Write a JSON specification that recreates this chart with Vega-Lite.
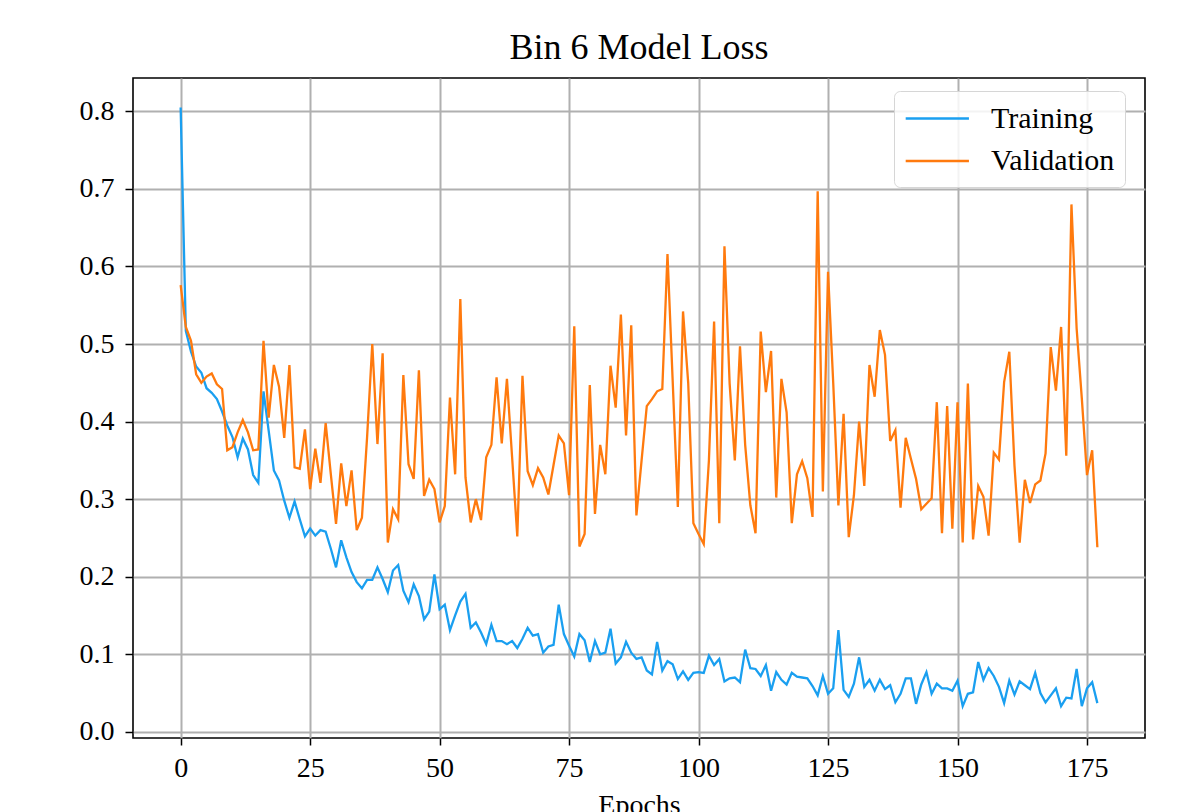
{
  "$schema": "https://vega.github.io/schema/vega-lite/v6.json",
  "autosize": {"type": "none"},
  "width": 1012,
  "height": 660,
  "padding": {"left": 133, "top": 78, "right": 34, "bottom": 74},
  "background": "white",
  "config": {
    "view": {"stroke": "black", "strokeWidth": 1.6},
    "font": "Liberation Serif"
  },
  "title": {
    "text": "Bin 6 Model Loss",
    "font": "Liberation Serif",
    "fontSize": 36,
    "fontWeight": "normal",
    "color": "black",
    "anchor": "middle",
    "baseline": "alphabetic",
    "offset": -17
  },
  "data": {
    "values": [
      {"epoch": 0, "Training": 0.805, "Validation": 0.576},
      {"epoch": 1, "Training": 0.517, "Validation": 0.522},
      {"epoch": 2, "Training": 0.49, "Validation": 0.504},
      {"epoch": 3, "Training": 0.471, "Validation": 0.461},
      {"epoch": 4, "Training": 0.463, "Validation": 0.45},
      {"epoch": 5, "Training": 0.443, "Validation": 0.458},
      {"epoch": 6, "Training": 0.437, "Validation": 0.462},
      {"epoch": 7, "Training": 0.429, "Validation": 0.448},
      {"epoch": 8, "Training": 0.413, "Validation": 0.442},
      {"epoch": 9, "Training": 0.395, "Validation": 0.363},
      {"epoch": 10, "Training": 0.38, "Validation": 0.367},
      {"epoch": 11, "Training": 0.354, "Validation": 0.386},
      {"epoch": 12, "Training": 0.378, "Validation": 0.402},
      {"epoch": 13, "Training": 0.364, "Validation": 0.386},
      {"epoch": 14, "Training": 0.331, "Validation": 0.363},
      {"epoch": 15, "Training": 0.321, "Validation": 0.364},
      {"epoch": 16, "Training": 0.439, "Validation": 0.504},
      {"epoch": 17, "Training": 0.388, "Validation": 0.405},
      {"epoch": 18, "Training": 0.337, "Validation": 0.473},
      {"epoch": 19, "Training": 0.324, "Validation": 0.445},
      {"epoch": 20, "Training": 0.298, "Validation": 0.379},
      {"epoch": 21, "Training": 0.276, "Validation": 0.473},
      {"epoch": 22, "Training": 0.297, "Validation": 0.341},
      {"epoch": 23, "Training": 0.274, "Validation": 0.339},
      {"epoch": 24, "Training": 0.252, "Validation": 0.39},
      {"epoch": 25, "Training": 0.262, "Validation": 0.313},
      {"epoch": 26, "Training": 0.253, "Validation": 0.365},
      {"epoch": 27, "Training": 0.26, "Validation": 0.321},
      {"epoch": 28, "Training": 0.258, "Validation": 0.398},
      {"epoch": 29, "Training": 0.236, "Validation": 0.332},
      {"epoch": 30, "Training": 0.212, "Validation": 0.268},
      {"epoch": 31, "Training": 0.247, "Validation": 0.346},
      {"epoch": 32, "Training": 0.225, "Validation": 0.291},
      {"epoch": 33, "Training": 0.206, "Validation": 0.337},
      {"epoch": 34, "Training": 0.193, "Validation": 0.26},
      {"epoch": 35, "Training": 0.185, "Validation": 0.276},
      {"epoch": 36, "Training": 0.196, "Validation": 0.38},
      {"epoch": 37, "Training": 0.196, "Validation": 0.5},
      {"epoch": 38, "Training": 0.212, "Validation": 0.371},
      {"epoch": 39, "Training": 0.197, "Validation": 0.488},
      {"epoch": 40, "Training": 0.18, "Validation": 0.244},
      {"epoch": 41, "Training": 0.208, "Validation": 0.287},
      {"epoch": 42, "Training": 0.215, "Validation": 0.274},
      {"epoch": 43, "Training": 0.182, "Validation": 0.46},
      {"epoch": 44, "Training": 0.167, "Validation": 0.345},
      {"epoch": 45, "Training": 0.19, "Validation": 0.326},
      {"epoch": 46, "Training": 0.175, "Validation": 0.466},
      {"epoch": 47, "Training": 0.145, "Validation": 0.304},
      {"epoch": 48, "Training": 0.155, "Validation": 0.325},
      {"epoch": 49, "Training": 0.203, "Validation": 0.313},
      {"epoch": 50, "Training": 0.158, "Validation": 0.27},
      {"epoch": 51, "Training": 0.164, "Validation": 0.291},
      {"epoch": 52, "Training": 0.131, "Validation": 0.431},
      {"epoch": 53, "Training": 0.15, "Validation": 0.332},
      {"epoch": 54, "Training": 0.168, "Validation": 0.558},
      {"epoch": 55, "Training": 0.178, "Validation": 0.328},
      {"epoch": 56, "Training": 0.134, "Validation": 0.27},
      {"epoch": 57, "Training": 0.141, "Validation": 0.3},
      {"epoch": 58, "Training": 0.128, "Validation": 0.273},
      {"epoch": 59, "Training": 0.113, "Validation": 0.354},
      {"epoch": 60, "Training": 0.138, "Validation": 0.37},
      {"epoch": 61, "Training": 0.117, "Validation": 0.457},
      {"epoch": 62, "Training": 0.117, "Validation": 0.372},
      {"epoch": 63, "Training": 0.113, "Validation": 0.455},
      {"epoch": 64, "Training": 0.117, "Validation": 0.354},
      {"epoch": 65, "Training": 0.108, "Validation": 0.252},
      {"epoch": 66, "Training": 0.12, "Validation": 0.459},
      {"epoch": 67, "Training": 0.134, "Validation": 0.336},
      {"epoch": 68, "Training": 0.124, "Validation": 0.318},
      {"epoch": 69, "Training": 0.126, "Validation": 0.34},
      {"epoch": 70, "Training": 0.102, "Validation": 0.328},
      {"epoch": 71, "Training": 0.11, "Validation": 0.306},
      {"epoch": 72, "Training": 0.112, "Validation": 0.344},
      {"epoch": 73, "Training": 0.164, "Validation": 0.382},
      {"epoch": 74, "Training": 0.126, "Validation": 0.372},
      {"epoch": 75, "Training": 0.111, "Validation": 0.305},
      {"epoch": 76, "Training": 0.097, "Validation": 0.523},
      {"epoch": 77, "Training": 0.126, "Validation": 0.239},
      {"epoch": 78, "Training": 0.118, "Validation": 0.255},
      {"epoch": 79, "Training": 0.09, "Validation": 0.447},
      {"epoch": 80, "Training": 0.117, "Validation": 0.281},
      {"epoch": 81, "Training": 0.1, "Validation": 0.37},
      {"epoch": 82, "Training": 0.102, "Validation": 0.332},
      {"epoch": 83, "Training": 0.133, "Validation": 0.472},
      {"epoch": 84, "Training": 0.088, "Validation": 0.418},
      {"epoch": 85, "Training": 0.096, "Validation": 0.538},
      {"epoch": 86, "Training": 0.116, "Validation": 0.382},
      {"epoch": 87, "Training": 0.102, "Validation": 0.524},
      {"epoch": 88, "Training": 0.094, "Validation": 0.279},
      {"epoch": 89, "Training": 0.096, "Validation": 0.35},
      {"epoch": 90, "Training": 0.079, "Validation": 0.42},
      {"epoch": 91, "Training": 0.074, "Validation": 0.429},
      {"epoch": 92, "Training": 0.116, "Validation": 0.439},
      {"epoch": 93, "Training": 0.079, "Validation": 0.442},
      {"epoch": 94, "Training": 0.091, "Validation": 0.616},
      {"epoch": 95, "Training": 0.087, "Validation": 0.453},
      {"epoch": 96, "Training": 0.068, "Validation": 0.29},
      {"epoch": 97, "Training": 0.078, "Validation": 0.542},
      {"epoch": 98, "Training": 0.067, "Validation": 0.45},
      {"epoch": 99, "Training": 0.076, "Validation": 0.269},
      {"epoch": 100, "Training": 0.077, "Validation": 0.255},
      {"epoch": 101, "Training": 0.076, "Validation": 0.242},
      {"epoch": 102, "Training": 0.098, "Validation": 0.35},
      {"epoch": 103, "Training": 0.086, "Validation": 0.529},
      {"epoch": 104, "Training": 0.094, "Validation": 0.269},
      {"epoch": 105, "Training": 0.065, "Validation": 0.626},
      {"epoch": 106, "Training": 0.069, "Validation": 0.449},
      {"epoch": 107, "Training": 0.07, "Validation": 0.35},
      {"epoch": 108, "Training": 0.064, "Validation": 0.497},
      {"epoch": 109, "Training": 0.106, "Validation": 0.37},
      {"epoch": 110, "Training": 0.082, "Validation": 0.292},
      {"epoch": 111, "Training": 0.081, "Validation": 0.256},
      {"epoch": 112, "Training": 0.072, "Validation": 0.516},
      {"epoch": 113, "Training": 0.086, "Validation": 0.438},
      {"epoch": 114, "Training": 0.053, "Validation": 0.491},
      {"epoch": 115, "Training": 0.077, "Validation": 0.302},
      {"epoch": 116, "Training": 0.067, "Validation": 0.455},
      {"epoch": 117, "Training": 0.061, "Validation": 0.412},
      {"epoch": 118, "Training": 0.076, "Validation": 0.269},
      {"epoch": 119, "Training": 0.071, "Validation": 0.332},
      {"epoch": 120, "Training": 0.07, "Validation": 0.349},
      {"epoch": 121, "Training": 0.069, "Validation": 0.327},
      {"epoch": 122, "Training": 0.059, "Validation": 0.277},
      {"epoch": 123, "Training": 0.047, "Validation": 0.697},
      {"epoch": 124, "Training": 0.072, "Validation": 0.31},
      {"epoch": 125, "Training": 0.049, "Validation": 0.593},
      {"epoch": 126, "Training": 0.056, "Validation": 0.45},
      {"epoch": 127, "Training": 0.131, "Validation": 0.292},
      {"epoch": 128, "Training": 0.054, "Validation": 0.41},
      {"epoch": 129, "Training": 0.045, "Validation": 0.251},
      {"epoch": 130, "Training": 0.062, "Validation": 0.305},
      {"epoch": 131, "Training": 0.096, "Validation": 0.4},
      {"epoch": 132, "Training": 0.058, "Validation": 0.317},
      {"epoch": 133, "Training": 0.067, "Validation": 0.473},
      {"epoch": 134, "Training": 0.053, "Validation": 0.432},
      {"epoch": 135, "Training": 0.067, "Validation": 0.518},
      {"epoch": 136, "Training": 0.055, "Validation": 0.486},
      {"epoch": 137, "Training": 0.06, "Validation": 0.375},
      {"epoch": 138, "Training": 0.038, "Validation": 0.389},
      {"epoch": 139, "Training": 0.049, "Validation": 0.289},
      {"epoch": 140, "Training": 0.069, "Validation": 0.379},
      {"epoch": 141, "Training": 0.069, "Validation": 0.352},
      {"epoch": 142, "Training": 0.036, "Validation": 0.326},
      {"epoch": 143, "Training": 0.061, "Validation": 0.287},
      {"epoch": 144, "Training": 0.077, "Validation": 0.294},
      {"epoch": 145, "Training": 0.049, "Validation": 0.301},
      {"epoch": 146, "Training": 0.062, "Validation": 0.425},
      {"epoch": 147, "Training": 0.056, "Validation": 0.256},
      {"epoch": 148, "Training": 0.056, "Validation": 0.42},
      {"epoch": 149, "Training": 0.053, "Validation": 0.262},
      {"epoch": 150, "Training": 0.066, "Validation": 0.425},
      {"epoch": 151, "Training": 0.033, "Validation": 0.244},
      {"epoch": 152, "Training": 0.049, "Validation": 0.449},
      {"epoch": 153, "Training": 0.051, "Validation": 0.248},
      {"epoch": 154, "Training": 0.09, "Validation": 0.317},
      {"epoch": 155, "Training": 0.067, "Validation": 0.303},
      {"epoch": 156, "Training": 0.082, "Validation": 0.253},
      {"epoch": 157, "Training": 0.072, "Validation": 0.36},
      {"epoch": 158, "Training": 0.058, "Validation": 0.351},
      {"epoch": 159, "Training": 0.037, "Validation": 0.451},
      {"epoch": 160, "Training": 0.066, "Validation": 0.49},
      {"epoch": 161, "Training": 0.048, "Validation": 0.343},
      {"epoch": 162, "Training": 0.065, "Validation": 0.244},
      {"epoch": 163, "Training": 0.06, "Validation": 0.325},
      {"epoch": 164, "Training": 0.055, "Validation": 0.295},
      {"epoch": 165, "Training": 0.076, "Validation": 0.319},
      {"epoch": 166, "Training": 0.05, "Validation": 0.324},
      {"epoch": 167, "Training": 0.038, "Validation": 0.359},
      {"epoch": 168, "Training": 0.047, "Validation": 0.496},
      {"epoch": 169, "Training": 0.056, "Validation": 0.44},
      {"epoch": 170, "Training": 0.033, "Validation": 0.522},
      {"epoch": 171, "Training": 0.044, "Validation": 0.356},
      {"epoch": 172, "Training": 0.043, "Validation": 0.68},
      {"epoch": 173, "Training": 0.081, "Validation": 0.52},
      {"epoch": 174, "Training": 0.033, "Validation": 0.43},
      {"epoch": 175, "Training": 0.056, "Validation": 0.331},
      {"epoch": 176, "Training": 0.064, "Validation": 0.363},
      {"epoch": 177, "Training": 0.037, "Validation": 0.238}
    ]
  },
  "transform": [{"fold": ["Training", "Validation"], "as": ["series", "loss"]}],
  "mark": {"type": "line", "strokeWidth": 2.3, "clip": true},
  "encoding": {
    "x": {
      "field": "epoch",
      "type": "quantitative",
      "scale": {"domain": [-9.2, 186.2], "nice": false, "zero": false},
      "axis": {
        "title": "Epochs",
        "values": [0, 25, 50, 75, 100, 125, 150, 175],
        "domain": false,
        "grid": true,
        "gridColor": "#b0b0b0",
        "gridWidth": 2,
        "gridOpacity": 1,
        "ticks": true,
        "tickColor": "black",
        "tickWidth": 1.5,
        "tickSize": 7,
        "labelFont": "Liberation Serif",
        "labelFontSize": 28,
        "labelColor": "black",
        "labelPadding": 9,
        "labelFlush": false,
        "titleFont": "Liberation Serif",
        "titleFontSize": 28,
        "titleFontWeight": "normal",
        "titleColor": "black",
        "titlePadding": 9
      }
    },
    "y": {
      "field": "loss",
      "type": "quantitative",
      "scale": {"domain": [-0.008, 0.843], "nice": false, "zero": false},
      "axis": {
        "title": null,
        "values": [0, 0.1, 0.2, 0.3, 0.4, 0.5, 0.6, 0.7, 0.8],
        "format": ".1f",
        "domain": false,
        "grid": true,
        "gridColor": "#b0b0b0",
        "gridWidth": 2,
        "gridOpacity": 1,
        "ticks": true,
        "tickColor": "black",
        "tickWidth": 1.5,
        "tickSize": 8,
        "labelFont": "Liberation Serif",
        "labelFontSize": 28,
        "labelColor": "black",
        "labelPadding": 11,
        "labelFlush": false
      }
    },
    "color": {
      "field": "series",
      "type": "nominal",
      "scale": {"domain": ["Training", "Validation"], "range": ["#1a9ff0", "#ff7a0e"]},
      "legend": {
        "title": null,
        "orient": "none",
        "legendX": 761,
        "legendY": 13,
        "symbolType": "M-1,0L3,0",
        "symbolSize": 1000,
        "symbolStrokeWidth": 2.5,
        "labelFont": "Liberation Serif",
        "labelFontSize": 30,
        "labelColor": "black",
        "labelOffset": 52,
        "rowPadding": 9.6,
        "padding": 10,
        "strokeColor": "#d6d6d6",
        "cornerRadius": 6,
        "fillColor": "rgba(255,255,255,0.85)"
      }
    }
  }
}
